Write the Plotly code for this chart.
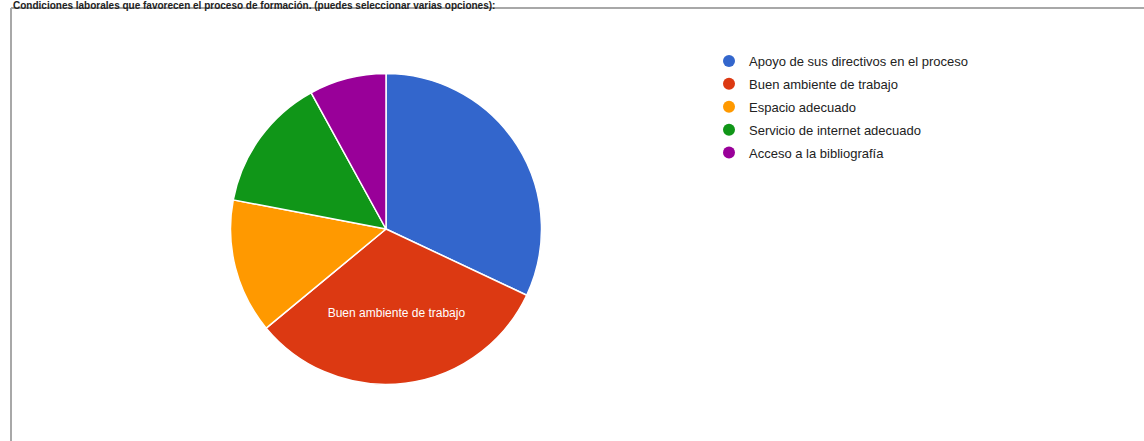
import plotly.graph_objects as go

title_text = "Condiciones laborales que favorecen el proceso de formación. (puedes seleccionar varias opciones):"
categories = [
    "Apoyo de sus directivos en el proceso",
    "Buen ambiente de trabajo",
    "Espacio adecuado",
    "Servicio de internet adecuado",
    "Acceso a la bibliografía",
]
counts = [16, 16, 7, 7, 4]
colors = ["#3366CC", "#DC3912", "#FF9900", "#109618", "#990099"]
slice_text = ["", "%{label}", "", "", ""]

W, H = 1144, 441
FONT = "Liberation Sans, Arial"

fig = go.Figure()
fig.add_trace(go.Pie(
    labels=categories,
    values=counts,
    sort=False,
    direction="clockwise",
    rotation=0,
    marker=dict(colors=colors, line=dict(color="white", width=1.5)),
    texttemplate=slice_text,
    textposition="inside",
    insidetextorientation="horizontal",
    textfont=dict(color="white", size=12, family=FONT),
    hoverinfo="label+percent",
    domain=dict(x=[230.5 / W, 541.5 / W], y=[1 - 385 / H, 1 - 73 / H]),
    showlegend=False,
))

# legend entries with round markers (Google-chart style)
for i, (cat, col) in enumerate(zip(categories, colors)):
    fig.add_trace(go.Scatter(
        x=[None], y=[None], mode="markers", name=cat,
        marker=dict(color=col, size=12, symbol="circle"),
        legendgroup=f"g{i}", showlegend=True, hoverinfo="skip",
    ))

fig.update_layout(
    width=W, height=H,
    margin=dict(l=0, r=0, t=0, b=0),
    paper_bgcolor="white",
    plot_bgcolor="white",
    font=dict(family=FONT, color="#222222"),
    xaxis=dict(visible=False),
    yaxis=dict(visible=False),
    legend=dict(
        x=709 / W, y=1 - 46 / H, xanchor="left", yanchor="top",
        font=dict(size=13, color="#222222"),
        bgcolor="rgba(0,0,0,0)",
        tracegroupgap=3,
        itemwidth=30,
    ),
    shapes=[
        dict(type="line", xref="paper", yref="paper",
             x0=11 / W, x1=1, y0=1 - 8 / H, y1=1 - 8 / H,
             line=dict(color="#a8a8a8", width=2)),
        dict(type="line", xref="paper", yref="paper",
             x0=11 / W, x1=11 / W, y0=0, y1=1 - 8 / H,
             line=dict(color="#a8a8a8", width=2)),
    ],
    annotations=[
        dict(text="<b>" + title_text + "</b>", xref="paper", yref="paper",
             x=11 / W, y=1 + 2 / H, xanchor="left", yanchor="top", showarrow=False,
             font=dict(size=10, color="#222222", family=FONT)),
    ],
)

fig.write_html("out.html", config={"displayModeBar": False},
               post_script="document.body.style.margin='0px';")
